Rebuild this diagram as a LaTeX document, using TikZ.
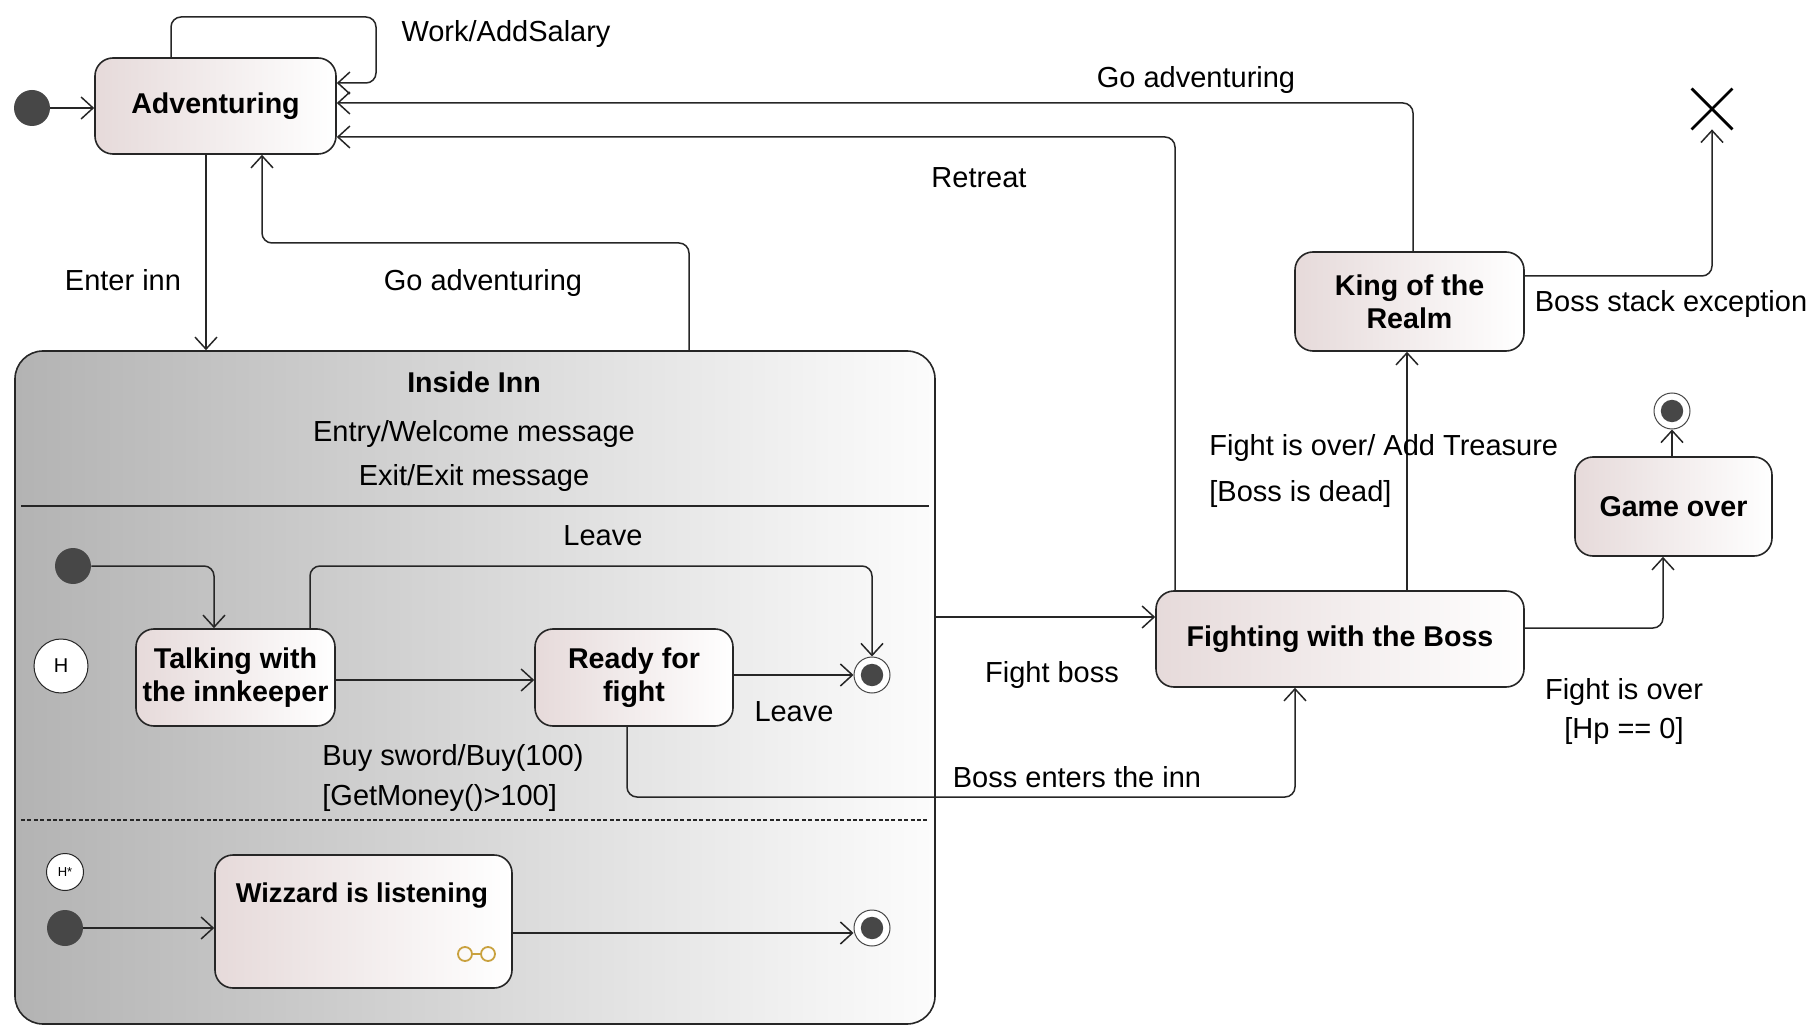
\documentclass[tikz,border=0pt]{standalone}
\usepackage{fontspec}
\setmainfont{Liberation Sans}
\usetikzlibrary{arrows.meta,shapes.misc}

\definecolor{edge}{HTML}{262626}
\definecolor{dotc}{HTML}{474747}
\definecolor{stateL}{HTML}{E6DADA}
\definecolor{innL}{HTML}{B3B3B3}
\definecolor{innR}{HTML}{FCFCFC}
\definecolor{gold}{HTML}{C9A13E}

\begin{document}
\begin{tikzpicture}[x=0.5pt,y=-0.5pt,
  every node/.style={font=\fontsize{14.5}{20}\selectfont, text=black},
  state/.style={draw=edge, line width=0.8pt, rounded corners=9pt,
    left color=stateL, right color=white, align=center, inner sep=0pt,
    font=\fontsize{14.3}{16.5}\selectfont\bfseries},
  initial/.style={circle, fill=dotc, minimum size=18pt, inner sep=0pt},
  final/.style={circle, draw=dotc, line width=0.5pt, fill=white,
    minimum size=18pt, inner sep=0pt,
    path picture={\fill[dotc] (path picture bounding box.center) circle (5.6pt);}},
  hist/.style={circle, draw=edge, fill=white, line width=0.5pt, inner sep=0pt},
  tr/.style={draw=edge, line width=0.75pt, rounded corners=5pt,
    -{Straight Barb[length=6pt,width=11pt]}},
]
\useasboundingbox (0,0) rectangle (1816,1027);

% ---------- composite state ----------
\node[draw=edge, line width=0.8pt, rounded corners=14pt, left color=innL,
  right color=innR, minimum width=460pt, minimum height=336.5pt,
  inner sep=0pt] (inn) at (475,687.5) {};
\node[font=\fontsize{14.3}{17}\selectfont\bfseries] (innname) at (474,382) {Inside Inn};
\node (innentry) at (474,434.5) {Entry/Welcome message};
\node (innexit) at (474,478.5) {Exit/Exit message};
\draw[edge, line width=0.8pt] (21,506) -- (929,506);
\draw[edge, line width=0.6pt, dash pattern=on 2pt off 1.2pt] (21,820) -- (929,820);

% ---------- states ----------
\node[state, minimum width=120.5pt, minimum height=48pt] (adv) at (215.5,106) {Adventuring};
\node[state, minimum width=99.5pt, minimum height=48.5pt] (talk) at (235.5,677.5) {Talking with\\the innkeeper};
\node[state, minimum width=99pt, minimum height=48.5pt] (ready) at (634,677.5) {Ready for\\fight};
\node[state, minimum width=148.5pt, minimum height=66.5pt] (wizz) at (363.5,921.5) {};
\node[font=\fontsize{13.6}{17}\selectfont\bfseries] (wizztxt) at (362,896) {Wizzard is listening};
\node[state, minimum width=184pt, minimum height=48pt] (fight) at (1340,639) {Fighting with the Boss};
\node[state, minimum width=114.5pt, minimum height=49.5pt] (king) at (1409.5,301.5) {King of the\\Realm};
\node[state, minimum width=98.5pt, minimum height=49.5pt] (gover) at (1673.5,506.5) {Game over};

% submachine icon
\draw[gold, line width=0.9pt] (465,954) circle (3.5pt) (488,954) circle (3.5pt) (472,954) -- (481,954);

% ---------- pseudo states ----------
\node[initial] (init1) at (32,108) {};
\node[initial] (init2) at (73,566) {};
\node[initial] (init3) at (65,928) {};
\node[final] (fin1) at (872,675) {};
\node[final] (fin2) at (872,928) {};
\node[final] (fin3) at (1672,411) {};
\node[hist, minimum size=27pt, font=\fontsize{10}{10}\selectfont] (shallow) at (61,666) {H};
\node[hist, minimum size=18.5pt, font=\fontsize{6.5}{6.5}\selectfont] (deep) at (65,872) {H*};
\node[cross out, draw=black, line width=1.4pt, minimum size=19pt, inner sep=0pt] (term) at (1712,109) {};

% ---------- transitions ----------
\draw[tr] (init1.east) -- (adv.west |- init1.east);
\draw[tr] (adv.north -| 171,0) -- (171,17) -- (376,17) -- (376,83) -- (adv.east |- 0,83);
\draw[tr] (king.north -| 1413,0) |- (adv.east |- 0,103);
\draw[tr] (fight.north -| 1175,0) |- (adv.east |- 0,137);
\draw[tr] (adv.south -| 206,0) -- (inn.north -| 206,0);
\draw[tr] (inn.north -| 689,0) |- (262,243) -- (adv.south -| 262,0);
\draw[tr] (inn.east |- 0,617) -- (fight.west |- 0,617);
\draw[tr] (ready.south -| 627,0) |- (1295,797) -- (fight.south -| 1295,0);
\draw[tr] (fight.north -| 1407,0) -- (king.south -| 1407,0);
\draw[tr] (king.east |- 0,276) -| (term.south);
\draw[tr] (fight.east |- 0,628) -| (gover.south -| 1663,0);
\draw[tr] (gover.north -| fin3.south) -- (fin3.south);
\draw[tr] (init2.east) -| (talk.north -| 214,0);
\draw[tr] (talk.north -| 310,0) |- (fin1.north |- 0,566) -- (fin1.north);
\draw[tr] (talk.east |- 0,680) -- (ready.west |- 0,680);
\draw[tr] (ready.east |- fin1.west) -- (fin1.west);
\draw[tr] (init3.east) -- (wizz.west |- init3.east);
\draw[tr] (wizz.east |- 0,933) -- (fin2.west |- 0,933);

% ---------- labels ----------
\node (lwork) at (506,34) {Work/AddSalary};
\node (lgo1) at (1196,80.5) {Go adventuring};
\node (lretreat) at (979,178) {Retreat};
\node (lenter) at (123,280) {Enter inn};
\node (lgo2) at (483,283.5) {Go adventuring};
\node (lleave1) at (603,536) {Leave};
\node (lleave2) at (794,712) {Leave};
\node[align=left, anchor=west, inner sep=0pt] (lbuy) at (322,777.5) {Buy sword/Buy(100)\\{[GetMoney()>100]}};
\node (lfightb) at (1052,675) {Fight boss};
\node (lboss) at (1077,777) {Boss enters the inn};
\node[align=left, anchor=west, inner sep=0pt, font=\fontsize{14.5}{23}\selectfont] (ltreasure) at (1209,471.5) {Fight is over/ Add Treasure\\{[Boss is dead]}};
\node (lstack) at (1671,304.5) {Boss stack exception};
\node[align=center, font=\fontsize{14.5}{19.5}\selectfont] (lhp) at (1624,711.5) {Fight is over\\{[Hp == 0]}};
\end{tikzpicture}
\end{document}
